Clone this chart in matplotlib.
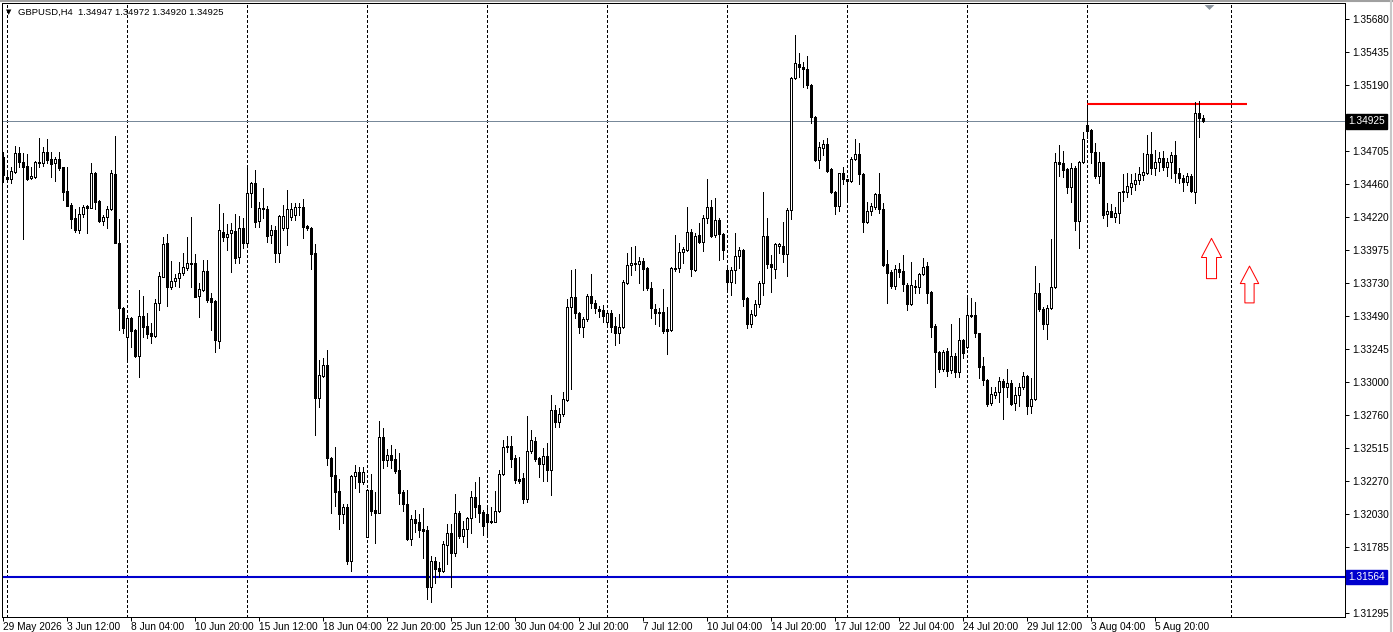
import matplotlib
matplotlib.use("Agg")
import matplotlib.pyplot as plt
from matplotlib.path import Path
from matplotlib.lines import Line2D
import matplotlib.transforms as mtransforms

plt.rcParams['font.family'] = ['Liberation Sans', 'DejaVu Sans']

# GBPUSD H4 candles, first bar = 29 May 2026 20:00
opens = [
    1.34664, 1.34512, 1.34497, 1.34554, 1.34689, 1.34623, 1.34596, 1.34505, 1.34517, 1.34615,
    1.34620, 1.34701, 1.34645, 1.34615, 1.34645, 1.34586, 1.34411, 1.34305, 1.34209, 1.34123,
    1.34239, 1.34300, 1.34283, 1.34546, 1.34337, 1.34192, 1.34217, 1.34276, 1.34537, 1.34025,
    1.33545, 1.33336, 1.33471, 1.33385, 1.33196, 1.33489, 1.33415, 1.33361, 1.33343, 1.33587,
    1.33779, 1.34025, 1.33700, 1.33744, 1.33771, 1.33803, 1.33845, 1.33875, 1.33877, 1.33636,
    1.33680, 1.33821, 1.33619, 1.33599, 1.33306, 1.34110, 1.34069, 1.34098, 1.34115, 1.33921,
    1.34135, 1.34029, 1.34398, 1.34467, 1.34191, 1.34275, 1.34275, 1.34086, 1.34123, 1.33955,
    1.34140, 1.34140, 1.34216, 1.34231, 1.34290, 1.34290, 1.34152, 1.34135, 1.33950, 1.32880,
    1.33048, 1.33126, 1.32438, 1.32314, 1.32199, 1.32024, 1.32081, 1.31680, 1.32307, 1.32337,
    1.32265, 1.31859, 1.32204, 1.32056, 1.32036, 1.32597, 1.32425, 1.32462, 1.32430, 1.32352,
    1.32192, 1.32100, 1.31840, 1.31987, 1.31970, 1.31916, 1.31909, 1.31486, 1.31682, 1.31626,
    1.31609, 1.31798, 1.31889, 1.31742, 1.32037, 1.31865, 1.31914, 1.31995, 1.32150, 1.32091,
    1.32039, 1.32025, 1.31970, 1.31970, 1.32049, 1.32320, 1.32519, 1.32529, 1.32438, 1.32285,
    1.32290, 1.32135, 1.32492, 1.32566, 1.32438, 1.32394, 1.32455, 1.32352, 1.32795, 1.32709,
    1.32763, 1.32868, 1.33552, 1.33626, 1.33513, 1.33410, 1.33464, 1.33636, 1.33582, 1.33540,
    1.33533, 1.33446, 1.33508, 1.33417, 1.33360, 1.33405, 1.33734, 1.33865, 1.33870, 1.33870,
    1.33897, 1.33840, 1.33693, 1.33542, 1.33520, 1.33520, 1.33390, 1.33385, 1.33840, 1.33845,
    1.33958, 1.33976, 1.34106, 1.33828, 1.34086, 1.34037, 1.34209, 1.34290, 1.34086, 1.34197,
    1.34091, 1.33828, 1.33742, 1.33828, 1.33931, 1.33976, 1.33619, 1.33430, 1.33496, 1.33575,
    1.33730, 1.34079, 1.33872, 1.33833, 1.34008, 1.34008, 1.33944, 1.34271, 1.35243, 1.35348,
    1.35324, 1.35309, 1.35193, 1.34960, 1.34640, 1.34726, 1.34758, 1.34571, 1.34406, 1.34297,
    1.34541, 1.34497, 1.34487, 1.34645, 1.34682, 1.34536, 1.34185, 1.34263, 1.34295, 1.34389,
    1.34276, 1.33872, 1.33810, 1.33706, 1.33832, 1.33820, 1.33717, 1.33574, 1.33699, 1.33704,
    1.33798, 1.33857, 1.33667, 1.33414, 1.33225, 1.33094, 1.33230, 1.33089, 1.33193, 1.33077,
    1.33311, 1.33262, 1.33495, 1.33495, 1.33360, 1.33119, 1.33016, 1.32843, 1.32905, 1.32930,
    1.33011, 1.32962, 1.32991, 1.32843, 1.32905, 1.32962, 1.33045, 1.32824, 1.32873, 1.33660,
    1.33537, 1.33429, 1.33545, 1.33699, 1.34627, 1.34615, 1.34570, 1.34437, 1.34578, 1.34192,
    1.34627, 1.34898, 1.34861, 1.34701, 1.34521, 1.34622, 1.34238, 1.34263, 1.34221, 1.34246,
    1.34403, 1.34406, 1.34442, 1.34462, 1.34492, 1.34529, 1.34546, 1.34683, 1.34578, 1.34622,
    1.34652, 1.34585, 1.34622, 1.34676, 1.34546, 1.34509, 1.34479, 1.34521, 1.34406, 1.34984,
    1.34947,
]
highs = [
    1.34696, 1.34541, 1.34591, 1.34743, 1.34733, 1.34689, 1.34684, 1.34591, 1.34632, 1.34800,
    1.34738, 1.34792, 1.34701, 1.34664, 1.34701, 1.34591, 1.34586, 1.34320, 1.34276, 1.34291,
    1.34308, 1.34308, 1.34615, 1.34554, 1.34345, 1.34234, 1.34300, 1.34566, 1.34817, 1.34202,
    1.33557, 1.33484, 1.33484, 1.33390, 1.33680, 1.33636, 1.33508, 1.33439, 1.33612, 1.33816,
    1.34069, 1.34094, 1.33894, 1.33798, 1.33890, 1.33951, 1.34074, 1.34217, 1.33946, 1.33730,
    1.33902, 1.33902, 1.33656, 1.33607, 1.34315, 1.34251, 1.34168, 1.34177, 1.34241, 1.34226,
    1.34209, 1.34595, 1.34479, 1.34565, 1.34332, 1.34430, 1.34300, 1.34160, 1.34152, 1.34233,
    1.34307, 1.34418, 1.34319, 1.34324, 1.34324, 1.34349, 1.34160, 1.34147, 1.34019, 1.33163,
    1.33176, 1.33237, 1.32450, 1.32519, 1.32285, 1.32100, 1.32100, 1.32314, 1.32388, 1.32376,
    1.32371, 1.32209, 1.32322, 1.32192, 1.32713, 1.32664, 1.32504, 1.32536, 1.32504, 1.32479,
    1.32204, 1.32204, 1.32019, 1.32056, 1.32027, 1.32068, 1.31938, 1.31717, 1.31712, 1.31675,
    1.31830, 1.31953, 1.31953, 1.32172, 1.32049, 1.31978, 1.32007, 1.32199, 1.32266, 1.32298,
    1.32057, 1.32086, 1.32081, 1.32199, 1.32352, 1.32573, 1.32603, 1.32603, 1.32463, 1.32450,
    1.32327, 1.32750, 1.32647, 1.32598, 1.32450, 1.32512, 1.32549, 1.32905, 1.32832, 1.32807,
    1.32930, 1.33611, 1.33828, 1.33833, 1.33520, 1.33478, 1.33651, 1.33798, 1.33606, 1.33562,
    1.33570, 1.33528, 1.33533, 1.33478, 1.33503, 1.33754, 1.33956, 1.34000, 1.34005, 1.33921,
    1.33914, 1.33852, 1.33742, 1.33577, 1.33545, 1.33685, 1.33552, 1.33853, 1.34086, 1.34030,
    1.34000, 1.34295, 1.34128, 1.34099, 1.34172, 1.34234, 1.34497, 1.34345, 1.34357, 1.34209,
    1.34099, 1.33840, 1.33848, 1.34099, 1.34000, 1.33981, 1.33631, 1.33533, 1.33607, 1.33749,
    1.34406, 1.34209, 1.33939, 1.34030, 1.34025, 1.34185, 1.34283, 1.35250, 1.35562, 1.35432,
    1.35366, 1.35407, 1.35201, 1.34965, 1.34775, 1.34787, 1.34800, 1.34578, 1.34414, 1.34546,
    1.34591, 1.34500, 1.34664, 1.34792, 1.34768, 1.34541, 1.34332, 1.34325, 1.34394, 1.34546,
    1.34325, 1.33975, 1.33827, 1.33864, 1.33877, 1.33938, 1.33729, 1.33889, 1.33754, 1.33808,
    1.33914, 1.33889, 1.33675, 1.33429, 1.33232, 1.33237, 1.33249, 1.33429, 1.33212, 1.33471,
    1.33316, 1.33618, 1.33618, 1.33594, 1.33360, 1.33188, 1.33021, 1.32962, 1.32966, 1.33035,
    1.33021, 1.33094, 1.33016, 1.32966, 1.32996, 1.33077, 1.33053, 1.33028, 1.33857, 1.33734,
    1.33557, 1.33569, 1.34054, 1.34693, 1.34750, 1.34708, 1.34578, 1.34620, 1.34595, 1.34634,
    1.34848, 1.35045, 1.34866, 1.34762, 1.34701, 1.34627, 1.34319, 1.34314, 1.34295, 1.34406,
    1.34536, 1.34541, 1.34536, 1.34546, 1.34590, 1.34688, 1.34824, 1.34848, 1.34713, 1.34701,
    1.34708, 1.34652, 1.34701, 1.34782, 1.34578, 1.34529, 1.34546, 1.34536, 1.35070, 1.35077,
    1.34972,
]
lows = [
    1.34480, 1.34487, 1.34468, 1.34541, 1.34591, 1.34054, 1.34492, 1.34497, 1.34505, 1.34591,
    1.34596, 1.34615, 1.34517, 1.34485, 1.34566, 1.34345, 1.34300, 1.34136, 1.34111, 1.34099,
    1.34217, 1.34099, 1.34283, 1.34276, 1.34185, 1.34160, 1.34136, 1.34271, 1.34025, 1.33385,
    1.33361, 1.33152, 1.33262, 1.33184, 1.33041, 1.33336, 1.33324, 1.33292, 1.33336, 1.33533,
    1.33774, 1.33562, 1.33685, 1.33712, 1.33705, 1.33791, 1.33828, 1.33700, 1.33626, 1.33484,
    1.33675, 1.33594, 1.33385, 1.33225, 1.33250, 1.34040, 1.33976, 1.33815, 1.33877, 1.33882,
    1.33987, 1.33999, 1.34290, 1.34147, 1.34147, 1.34209, 1.34037, 1.34024, 1.33889, 1.33889,
    1.34123, 1.34012, 1.34196, 1.34196, 1.34233, 1.34061, 1.34123, 1.33832, 1.32610, 1.32819,
    1.33040, 1.32388, 1.32032, 1.32086, 1.31914, 1.31958, 1.31658, 1.31609, 1.32216, 1.32192,
    1.32248, 1.31854, 1.32019, 1.31815, 1.32032, 1.32364, 1.32381, 1.32364, 1.32332, 1.32100,
    1.32051, 1.31835, 1.31798, 1.31896, 1.31854, 1.31700, 1.31397, 1.31380, 1.31520, 1.31564,
    1.31601, 1.31658, 1.31491, 1.31717, 1.31848, 1.31823, 1.31786, 1.31889, 1.32007, 1.31970,
    1.31872, 1.31872, 1.31958, 1.31966, 1.32044, 1.32315, 1.32487, 1.32371, 1.32254, 1.32254,
    1.32106, 1.32118, 1.32480, 1.32418, 1.32298, 1.32273, 1.32273, 1.32167, 1.32672, 1.32667,
    1.32750, 1.32863, 1.32950, 1.33471, 1.33360, 1.33331, 1.33454, 1.33545, 1.33513, 1.33478,
    1.33446, 1.33422, 1.33373, 1.33274, 1.33292, 1.33397, 1.33725, 1.33791, 1.33828, 1.33729,
    1.33680, 1.33680, 1.33471, 1.33429, 1.33415, 1.33360, 1.33205, 1.33380, 1.33823, 1.33816,
    1.33877, 1.33971, 1.33784, 1.33823, 1.34030, 1.33971, 1.34177, 1.34069, 1.34074, 1.33902,
    1.33907, 1.33675, 1.33644, 1.33730, 1.33840, 1.33562, 1.33398, 1.33410, 1.33489, 1.33557,
    1.33644, 1.33840, 1.33668, 1.33767, 1.33951, 1.33890, 1.33784, 1.34202, 1.35235, 1.35255,
    1.35181, 1.35169, 1.34915, 1.34635, 1.34578, 1.34677, 1.34554, 1.34394, 1.34241, 1.34266,
    1.34463, 1.34355, 1.34480, 1.34640, 1.34463, 1.34111, 1.34172, 1.34234, 1.34276, 1.34246,
    1.33858, 1.33581, 1.33692, 1.33685, 1.33778, 1.33675, 1.33532, 1.33569, 1.33660, 1.33660,
    1.33791, 1.33586, 1.33330, 1.32966, 1.33077, 1.33085, 1.33045, 1.33070, 1.33040, 1.33040,
    1.33176, 1.33249, 1.33483, 1.33330, 1.33028, 1.32979, 1.32824, 1.32831, 1.32880, 1.32856,
    1.32725, 1.32893, 1.32831, 1.32794, 1.32824, 1.32947, 1.32765, 1.32775, 1.32868, 1.33527,
    1.33390, 1.33316, 1.33537, 1.33692, 1.34521, 1.34516, 1.34398, 1.34332, 1.34123, 1.33987,
    1.34620, 1.34799, 1.34620, 1.34504, 1.34467, 1.34209, 1.34152, 1.34216, 1.34184, 1.34177,
    1.34339, 1.34364, 1.34388, 1.34418, 1.34462, 1.34492, 1.34536, 1.34536, 1.34529, 1.34560,
    1.34565, 1.34521, 1.34504, 1.34479, 1.34472, 1.34413, 1.34455, 1.34406, 1.34324, 1.34811,
    1.34920,
]
closes = [
    1.34529, 1.34497, 1.34559, 1.34689, 1.34623, 1.34586, 1.34497, 1.34522, 1.34623, 1.34625,
    1.34701, 1.34640, 1.34608, 1.34645, 1.34578, 1.34406, 1.34303, 1.34207, 1.34123, 1.34239,
    1.34291, 1.34283, 1.34541, 1.34332, 1.34192, 1.34217, 1.34276, 1.34546, 1.34025, 1.33545,
    1.33398, 1.33471, 1.33380, 1.33196, 1.33489, 1.33410, 1.33353, 1.33343, 1.33582, 1.33784,
    1.34020, 1.33700, 1.33747, 1.33769, 1.33803, 1.33848, 1.33877, 1.33882, 1.33631, 1.33685,
    1.33821, 1.33607, 1.33594, 1.33311, 1.34123, 1.34069, 1.34091, 1.34123, 1.33914, 1.34135,
    1.34029, 1.34398, 1.34472, 1.34184, 1.34283, 1.34283, 1.34078, 1.34123, 1.33955, 1.34226,
    1.34226, 1.34275, 1.34275, 1.34290, 1.34295, 1.34147, 1.34135, 1.33943, 1.32880, 1.33050,
    1.33126, 1.32438, 1.32310, 1.32192, 1.32024, 1.32076, 1.31682, 1.32307, 1.32337, 1.32265,
    1.32337, 1.32204, 1.32051, 1.32036, 1.32597, 1.32425, 1.32462, 1.32425, 1.32347, 1.32184,
    1.32100, 1.31840, 1.31987, 1.31963, 1.31909, 1.31904, 1.31486, 1.31682, 1.31621, 1.31609,
    1.31805, 1.31884, 1.31742, 1.32037, 1.31865, 1.31914, 1.31995, 1.32150, 1.32081, 1.32037,
    1.31941, 1.31970, 1.31978, 1.32052, 1.32320, 1.32524, 1.32529, 1.32431, 1.32278, 1.32273,
    1.32135, 1.32492, 1.32573, 1.32433, 1.32394, 1.32455, 1.32352, 1.32795, 1.32704, 1.32765,
    1.32873, 1.33552, 1.33626, 1.33508, 1.33410, 1.33464, 1.33636, 1.33582, 1.33545, 1.33528,
    1.33488, 1.33508, 1.33410, 1.33360, 1.33405, 1.33742, 1.33865, 1.33877, 1.33877, 1.33897,
    1.33835, 1.33693, 1.33545, 1.33508, 1.33508, 1.33380, 1.33380, 1.33840, 1.33833, 1.33958,
    1.33980, 1.34106, 1.33833, 1.34079, 1.34032, 1.34209, 1.34290, 1.34079, 1.34197, 1.34091,
    1.33976, 1.33742, 1.33828, 1.33931, 1.33976, 1.33612, 1.33430, 1.33503, 1.33575, 1.33730,
    1.34079, 1.33870, 1.33848, 1.34017, 1.34017, 1.33944, 1.34271, 1.35243, 1.35353, 1.35324,
    1.35309, 1.35193, 1.34960, 1.34640, 1.34738, 1.34758, 1.34561, 1.34404, 1.34297, 1.34541,
    1.34497, 1.34487, 1.34645, 1.34682, 1.34534, 1.34185, 1.34263, 1.34300, 1.34389, 1.34276,
    1.33865, 1.33803, 1.33706, 1.33832, 1.33815, 1.33722, 1.33574, 1.33717, 1.33709, 1.33798,
    1.33847, 1.33660, 1.33409, 1.33220, 1.33094, 1.33225, 1.33085, 1.33193, 1.33077, 1.33311,
    1.33212, 1.33495, 1.33488, 1.33360, 1.33114, 1.33016, 1.32838, 1.32912, 1.32930, 1.33011,
    1.32962, 1.32991, 1.32838, 1.32905, 1.32962, 1.33045, 1.32824, 1.32873, 1.33660, 1.33537,
    1.33429, 1.33545, 1.33699, 1.34627, 1.34610, 1.34565, 1.34437, 1.34578, 1.34192, 1.34627,
    1.34792, 1.34856, 1.34701, 1.34521, 1.34622, 1.34233, 1.34263, 1.34221, 1.34246, 1.34406,
    1.34410, 1.34447, 1.34467, 1.34492, 1.34536, 1.34553, 1.34683, 1.34578, 1.34627, 1.34652,
    1.34585, 1.34622, 1.34676, 1.34541, 1.34504, 1.34479, 1.34521, 1.34410, 1.34984, 1.34947,
    1.34925,
]

date_labels = ["29 May 2026", "3 Jun 12:00", "8 Jun 04:00", "10 Jun 20:00", "15 Jun 12:00",
               "18 Jun 04:00", "22 Jun 20:00", "25 Jun 12:00", "30 Jun 04:00", "2 Jul 20:00",
               "7 Jul 12:00", "10 Jul 04:00", "14 Jul 20:00", "17 Jul 12:00", "22 Jul 04:00",
               "24 Jul 20:00", "29 Jul 12:00", "3 Aug 04:00", "5 Aug 20:00"]
label_bars = [16 * k for k in range(len(date_labels))]
week_grid = [1, 31, 61, 91, 121, 151, 181, 211, 241, 271, 307]
price_ticks = [1.35680, 1.35435, 1.35190, 1.34950, 1.34705, 1.34460, 1.34220, 1.33975,
               1.33730, 1.33490, 1.33245, 1.33000, 1.32760, 1.32515, 1.32270, 1.32030,
               1.31785, 1.31540, 1.31295]
hidden_ticks = [1.34950, 1.31540]   # covered by the price boxes
bid = 1.34925
support = 1.31564
resistance = 1.35050
resistance_from, resistance_to = 271, 311
arrow_x = [302, 311.5]
arrow_y = [1.33913, 1.33724]
arrow_size = [29, 26.5]
shift_bar = 301.5

W, H = 1393, 632
fig = plt.figure(figsize=(W / 100, H / 100), dpi=100)
fig.patch.set_facecolor("white")
ax = fig.add_axes([2 / W, 15 / H, 1343 / W, 614 / H])
y0, y1 = 1.31267, 1.35798
ax.set_xlim(-0.25, 335.5)
ax.set_ylim(y0, y1)

px = 0.72  # one pixel in points

# weekly dashed grid
ax.vlines(week_grid, y0, y1, colors="black", linewidth=px,
          linestyles=(0, (2.2, 2.2)), zorder=1, antialiased=False)

# horizontal lines
ax.axhline(bid, color="#778899", linewidth=px, zorder=2)
ax.axhline(support, color="#0000CD", linewidth=1.5, zorder=2)
ax.hlines(resistance, resistance_from, resistance_to, colors="red", linewidth=1.5, zorder=2)

# candles
xs = list(range(len(closes)))
ax.vlines(xs, lows, highs, colors="black", linewidth=px, zorder=3, antialiased=False)
bottoms = [min(o, c) for o, c in zip(opens, closes)]
heights = [abs(c - o) for o, c in zip(opens, closes)]
faces = ["white" if c > o else "black" for o, c in zip(opens, closes)]
ax.bar(xs, heights, bottom=bottoms, width=0.5, color=faces, edgecolor="black",
       linewidth=px, zorder=4, antialiased=False)

# hollow up arrows
arrow_path = Path([(0, 1), (0.5, 0.05), (0.25, 0.05), (0.25, -1), (-0.25, -1),
                   (-0.25, 0.05), (-0.5, 0.05), (0, 1)],
                  [Path.MOVETO] + [Path.LINETO] * 6 + [Path.CLOSEPOLY])
for x, y, s in zip(arrow_x, arrow_y, arrow_size):
    ax.plot([x], [y], marker=arrow_path, markersize=s, markerfacecolor="white",
            markeredgecolor="red", markeredgewidth=px, linestyle="none", zorder=5)

# chart shift marker (hangs under the top frame)
tri = Path([(-1, 0.5), (1, 0.5), (0, -0.5), (-1, 0.5)],
           [Path.MOVETO, Path.LINETO, Path.LINETO, Path.CLOSEPOLY])
ax.plot([shift_bar], [1.35768], marker=tri, markersize=7, color="#8a949e",
        markeredgewidth=0, clip_on=False, zorder=6)

# axes styling
for sp in ax.spines.values():
    sp.set_linewidth(px)
    sp.set_color("black")
ax.yaxis.tick_right()
ax.set_yticks(price_ticks)
ax.set_yticklabels(["" if p in hidden_ticks else f"{p:.5f}" for p in price_ticks])
ax.set_xticks(label_bars)
ax.set_xticklabels(date_labels)
ax.tick_params(axis="both", length=3, width=px, labelsize=7.3, colors="black")
ax.tick_params(axis="x", pad=0.8)
ax.tick_params(axis="y", pad=2.5)
for lbl in ax.get_xticklabels():
    lbl.set_horizontalalignment("left")

# price labels on the axis
trans = mtransforms.blended_transform_factory(ax.transAxes, ax.transData)
ax.text(1.0023, bid, f"{bid:.5f}", transform=trans, color="white", fontsize=7.3,
        va="center", ha="left", clip_on=False, zorder=10,
        bbox=dict(facecolor="black", edgecolor="black", pad=1.6))
ax.text(1.0023, support, f"{support:.5f}", transform=trans, color="white", fontsize=7.3,
        va="center", ha="left", clip_on=False, zorder=10,
        bbox=dict(facecolor="#0000CD", edgecolor="#0000CD", pad=1.6))

# header
fig.text(6 / W, 1 - 12 / H, "\u25bc", fontsize=5, va="center", ha="left",
         family="DejaVu Sans")
fig.text(18 / W, 1 - 12 / H, "GBPUSD,H4  1.34947 1.34972 1.34920 1.34925",
         fontsize=6.8, va="center", ha="left")

# window border
fig.add_artist(Line2D([0, 1], [1 - 0.5 / H, 1 - 0.5 / H], color="#a0a0a0", linewidth=1.5))
fig.add_artist(Line2D([1 - 2 / W, 1 - 2 / W], [0, 1], color="#c8c8c8", linewidth=1.5))

fig.savefig("out.png", dpi=100)
